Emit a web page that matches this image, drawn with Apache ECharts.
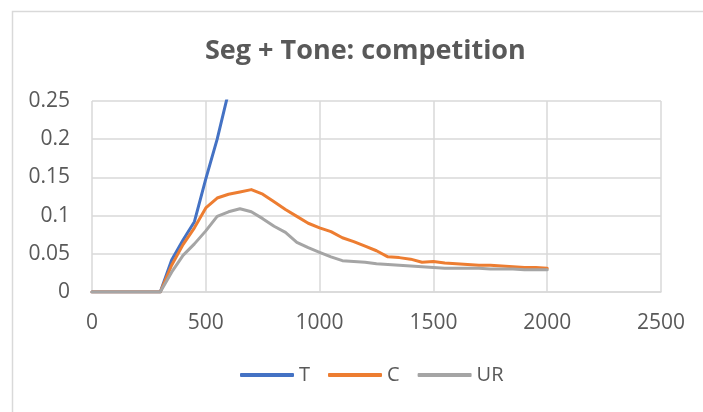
<!DOCTYPE html>
<html>
<head>
<meta charset="utf-8">
<script src="https://cdn.jsdelivr.net/npm/echarts@6/dist/echarts.min.js"></script>
<style>
  html, body { margin: 0; padding: 0; background: #fff; }
  #chart { width: 703px; height: 412px; }
</style>
</head>
<body>
<div id="chart"></div>
<script>
// x positions shared by all series
var xs = [0, 100, 200, 300, 350, 400, 450, 500, 550, 600, 650, 700, 750, 800, 850, 900, 950, 1000,
          1050, 1100, 1150, 1200, 1250, 1300, 1350, 1400, 1450, 1500, 1550, 1600, 1650, 1700,
          1750, 1800, 1850, 1900, 1950, 2000];
// T leaves the top of the plot just before 600
var T = [0, 0, 0, 0, 0.042, 0.068, 0.092, 0.148, 0.2, 0.262];
var C = [0, 0, 0, 0, 0.035, 0.062, 0.084, 0.11, 0.123, 0.128, 0.131, 0.134, 0.128, 0.118, 0.108,
         0.099, 0.09, 0.084, 0.079, 0.071, 0.066, 0.06, 0.054, 0.046, 0.045, 0.043, 0.039, 0.04,
         0.038, 0.037, 0.036, 0.035, 0.035, 0.034, 0.033, 0.032, 0.032, 0.031];
var UR = [0, 0, 0, 0, 0.026, 0.048, 0.063, 0.08, 0.099, 0.105, 0.109, 0.105, 0.096, 0.086, 0.078,
          0.065, 0.058, 0.052, 0.046, 0.041, 0.04, 0.039, 0.037, 0.036, 0.035, 0.034, 0.033, 0.032,
          0.031, 0.031, 0.031, 0.031, 0.03, 0.03, 0.03, 0.029, 0.029, 0.029];
var names = ['T', 'C', 'UR'];
var colors = ['#4472C4', '#ED7D31', '#A5A5A5'];

function pairs(vals) {
    var data = [];
    for (var i = 0; i < vals.length; i++) {
        data.push([xs[i], vals[i]]);
    }
    return data;
}

var font = '"Open Sans", sans-serif';
var myChart = echarts.init(document.getElementById('chart'), null, {renderer: 'canvas'});

var series = [T, C, UR].map(function (vals, i) {
    return {
        name: names[i],
        type: 'line',
        data: pairs(vals),
        showSymbol: false,
        clip: true,
        lineStyle: {width: 3, color: colors[i], cap: 'round', join: 'round'},
        itemStyle: {color: colors[i]}
    };
});

option = {
    animation: false,
    graphic: [{
        type: 'rect',
        left: 10, top: 9,
        shape: {width: 760, height: 460},
        style: {fill: 'none', stroke: '#d9d9d9', lineWidth: 1.5}
    }],
    title: {
        text: 'Seg + Tone: competition',
        left: 205,
        top: 38,
        padding: 0,
        textStyle: {fontFamily: font, fontSize: 27, fontWeight: 'bold', color: '#595959'}
    },
    legend: {
        data: names,
        bottom: 22,
        left: 235,
        itemWidth: 54,
        itemHeight: 4,
        itemGap: 18,
        icon: 'roundRect',
        textStyle: {fontFamily: font, fontSize: 20, color: '#595959'}
    },
    grid: {left: 92, right: 42, top: 101, bottom: 120},
    xAxis: {
        type: 'value',
        min: 0, max: 2500, interval: 500,
        axisLine: {show: true, lineStyle: {color: '#d9d9d9', width: 1.5}},
        axisTick: {show: false},
        splitLine: {show: true, lineStyle: {color: '#d9d9d9', width: 1.5}},
        axisLabel: {
            fontFamily: font, fontSize: 21, color: '#595959', margin: 21,
            formatter: function (v) { return String(v); }
        }
    },
    yAxis: {
        type: 'value',
        min: 0, max: 0.25, interval: 0.05,
        axisLine: {show: false},
        axisTick: {show: false},
        splitLine: {show: true, lineStyle: {color: '#d9d9d9', width: 1.5}},
        axisLabel: {fontFamily: font, fontSize: 21, color: '#595959', margin: 22}
    },
    series: series
};

myChart.setOption(option);
</script>
</body>
</html>
